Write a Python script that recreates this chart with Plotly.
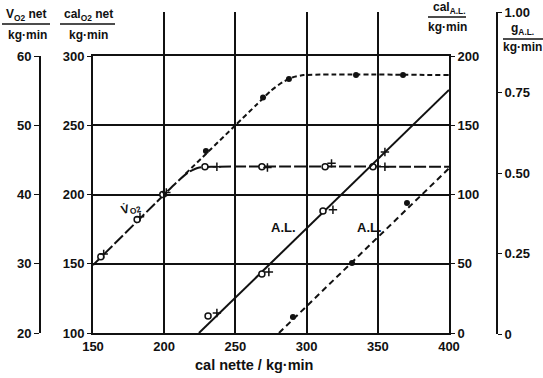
import plotly.graph_objects as go

W, H = 543, 378

# ---- data ----
x_ticks = [150, 200, 250, 300, 350, 400]
calo2_ticks = [100, 150, 200, 250, 300]
calal_ticks = [0, 50, 100, 150, 200]
vo2_ticks = [20, 30, 40, 50, 60]
gal_ticks = [0, 0.25, 0.5, 0.75, 1.0]
gal_ticktext = ["0", "0.25", "0.50", "0.75", "1.00"]

# VO2 curve (in calO2 units)
vo2_line_x = [150, 200, 210, 217, 224, 234, 400]
vo2_line_y = [149, 200, 210, 216, 219.3, 220, 220]
vo2_circ_x = [155.5, 181, 199, 228.6, 268.6, 313, 346.6]
vo2_circ_y = [155, 182, 200, 220, 220, 220, 220]
vo2_plus_x = [157.5, 183, 201.5, 237, 272.5, 317.5, 355]
vo2_plus_y = [157, 184, 201.5, 220, 219.5, 222.5, 220]

# dashed calO2 curve (filled dots)
dash_line_x = [215, 250, 265, 275, 283, 290, 298, 400]
dash_line_y = [215, 250, 265, 275, 281, 284.5, 286.2, 286.2]
dash_dot_x = [229.3, 269.4, 287.6, 334.7, 367.7]
dash_dot_y = [231.4, 270, 283.4, 286.3, 286.3]

# A.L. solid (calAL units)
al_line_x = [224.4, 400]
al_line_y = [0, 175.5]
al_circ_x = [230.8, 268.6, 311.5]
al_circ_y = [12.3, 42.6, 88]
al_plus_x = [237, 273.5, 318.5, 355]
al_plus_y = [14.4, 44, 89, 130.7]

# A.L. dashed (calAL units)
al2_line_x = [280.6, 400]
al2_line_y = [0, 118.9]
al2_dot_x = [290.4, 331.9, 370.5]
al2_dot_y = [11.6, 50.5, 93.9]

FONT = "Liberation Sans"
K = "#111"

fig = go.Figure()

fig.add_trace(go.Scatter(x=vo2_line_x, y=vo2_line_y, mode="lines",
                         line=dict(color=K, width=2, dash="12px,3px", shape="spline", smoothing=0.6)))
fig.add_trace(go.Scatter(x=dash_line_x, y=dash_line_y, mode="lines",
                         line=dict(color=K, width=2, dash="5px,3px", shape="spline", smoothing=0.6)))
fig.add_trace(go.Scatter(x=vo2_circ_x, y=vo2_circ_y, mode="markers",
                         marker=dict(symbol="circle", size=6, color="white", line=dict(color=K, width=1.5))))
fig.add_trace(go.Scatter(x=vo2_plus_x, y=vo2_plus_y, mode="markers",
                         marker=dict(symbol="cross-thin", size=6, line=dict(color=K, width=1.5))))
fig.add_trace(go.Scatter(x=dash_dot_x, y=dash_dot_y, mode="markers",
                         marker=dict(symbol="circle", size=6, color=K)))

fig.add_trace(go.Scatter(x=al_line_x, y=al_line_y, mode="lines", yaxis="y2",
                         line=dict(color=K, width=2)))
fig.add_trace(go.Scatter(x=al2_line_x, y=al2_line_y, mode="lines", yaxis="y2",
                         line=dict(color=K, width=2, dash="6px,4px")))
fig.add_trace(go.Scatter(x=al_circ_x, y=al_circ_y, mode="markers", yaxis="y2",
                         marker=dict(symbol="circle", size=6, color="white", line=dict(color=K, width=1.5))))
fig.add_trace(go.Scatter(x=al_plus_x, y=al_plus_y, mode="markers", yaxis="y2",
                         marker=dict(symbol="cross-thin", size=6, line=dict(color=K, width=1.5))))
fig.add_trace(go.Scatter(x=al2_dot_x, y=al2_dot_y, mode="markers", yaxis="y2",
                         marker=dict(symbol="circle", size=6, color=K)))
# dummy traces to materialise extra axes
fig.add_trace(go.Scatter(x=[None], y=[None], yaxis="y3", mode="markers"))
fig.add_trace(go.Scatter(x=[None], y=[None], yaxis="y4", mode="markers"))

tickfont = dict(family=FONT, size=13, color=K, weight="bold")
x0, x1 = 93 / W, 449 / W
ydom = [(H - 333) / H, (H - 56) / H]

fig.update_layout(
    width=W, height=H, showlegend=False,
    margin=dict(l=0, r=0, t=0, b=0),
    paper_bgcolor="white", plot_bgcolor="rgba(0,0,0,0)",
    font=dict(family=FONT, color=K),
    xaxis=dict(domain=[x0, x1], range=[150, 400], tickvals=x_ticks, showgrid=True,
               gridcolor=K, gridwidth=1.8, showline=True, linecolor=K, linewidth=2,
               mirror=True, ticks="", tickfont=tickfont, zeroline=False, automargin=False),
    yaxis=dict(domain=ydom, range=[100, 300], tickvals=calo2_ticks, showgrid=True,
               gridcolor=K, gridwidth=1.8, showline=True, linecolor=K, linewidth=2,
               mirror=True, ticks="outside", ticklen=4, tickcolor=K, tickfont=tickfont,
               zeroline=False, automargin=False),
    yaxis2=dict(overlaying="y", side="right", anchor="x", range=[0, 200], tickvals=calal_ticks,
                showgrid=False, showline=True, linecolor=K, linewidth=2, ticks="outside",
                ticklen=4, tickcolor=K, tickfont=tickfont, zeroline=False, automargin=False),
    yaxis3=dict(overlaying="y", side="left", anchor="free", position=40 / W, range=[20, 60],
                tickvals=vo2_ticks, showgrid=False, showline=True, linecolor=K, linewidth=2,
                ticks="outside", ticklen=5, tickcolor=K, tickfont=tickfont, zeroline=False,
                automargin=False),
    yaxis4=dict(domain=[(H - 334) / H, (H - 12) / H], side="right", anchor="free",
                position=497 / W, range=[0, 1], tickvals=gal_ticks, ticktext=gal_ticktext,
                showgrid=False, showline=True, linecolor=K, linewidth=2, ticks="outside",
                ticklen=4, tickcolor=K, tickfont=tickfont, zeroline=False, automargin=False),
)

def px(xp, yp):
    return xp / W, 1 - yp / H

anns = []
def txt(text, xp, yp, size=12, xanchor="center", angle=0):
    x, y = px(xp, yp)
    anns.append(dict(text=text, x=x, y=y, xref="paper", yref="paper", showarrow=False,
                     xanchor=xanchor, yanchor="middle", textangle=angle,
                     font=dict(family=FONT, size=size, color=K)))

shapes = []
def bar(xa, xb, yp):
    xa_, y_ = px(xa, yp)
    xb_, _ = px(xb, yp)
    shapes.append(dict(type="line", xref="paper", yref="paper", x0=xa_, x1=xb_, y0=y_, y1=y_,
                       line=dict(color=K, width=1.5)))

# axis titles (fractions)
txt("<b>V<sub>O2</sub> net</b>", 26, 15)
bar(2, 50, 24)
txt("<b>kg·min</b>", 27, 35)
txt("<b>cal<sub>O2</sub> net</b>", 88, 15)
bar(60, 115, 24)
txt("<b>kg·min</b>", 88, 35)
txt("<b>cal<sub>A.L.</sub></b>", 449, 8)
bar(428, 466, 17)
txt("<b>kg·min</b>", 447, 27)
txt("<b>g<sub>A.L.</sub></b>", 522, 29)
bar(503, 543, 39)
txt("<b>kg·min</b>", 522, 47)
txt("<b>cal nette / kg·min</b>", 254, 365, size=14.5)

# in-plot labels
txt("<b>V̇<sub>O2</sub></b>", 131, 208, size=12, angle=-15)
txt("<b>A.L.</b>", 283, 227, size=13)
txt("<b>A.L.</b>", 369, 227, size=13)

fig.update_layout(annotations=anns, shapes=shapes)
fig.write_html("out.html", config={"displayModeBar": False},
               post_script="document.body.style.margin='0px';")
